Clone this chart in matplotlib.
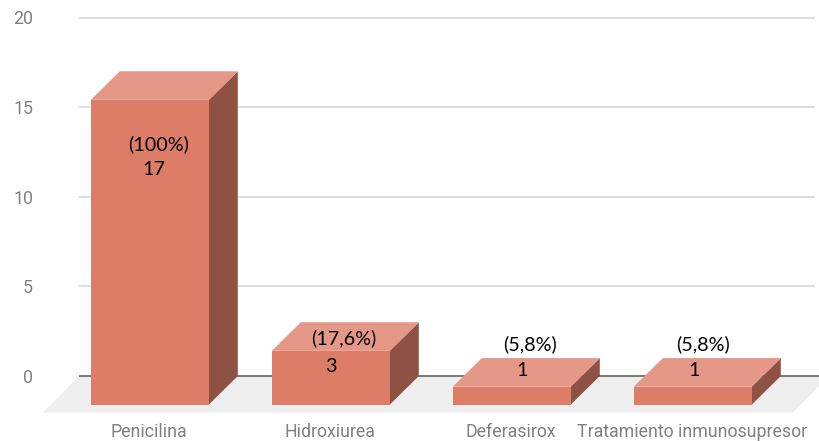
import matplotlib
matplotlib.use("Agg")
import matplotlib.pyplot as plt
from matplotlib.patches import Polygon

categories = ["Penicilina", "Hidroxiurea", "Deferasirox", "Tratamiento inmunosupresor"]
values = [17, 3, 1, 1]
percents = ["(100%)", "(17,6%)", "(5,8%)", "(5,8%)"]
yticks = [0, 5, 10, 15, 20]

W, H = 819, 441
L, R, T, B = 79, 819, 17.5, 376
fig = plt.figure(figsize=(W / 100, H / 100), dpi=100)
ax = fig.add_axes([L / W, 1 - B / H, (R - L) / W, (B - T) / H])
ax.axis("off")
ax.set_ylim(0, 20)
SLOT = 181.0
ax.set_xlim((L - 178.8) / SLOT, (R - 178.8) / SLOT)

px_x = SLOT / 1.0
px_y = (B - T) / 20.0
DX = -29 / px_x          # depth shift of the front plane
DY = -28.6 / px_y
HALF = 59 / px_x

FRONT, TOP, SIDE = "#DD7C67", "#E59888", "#8E5244"
GREY = "#808080"


def poly(pts, color, z):
    ax.add_patch(Polygon(pts, closed=True, facecolor=color, edgecolor="none",
                         zorder=z, clip_on=False))


x0, x1 = ax.get_xlim()
# Floor
fy = -36.5 / px_y
fx = -36 / px_x
poly([(x0, 0), (x1 + 10 / px_x, 0), (x1 + 10 / px_x + fx, fy), (x0 + fx, fy)], "#EEEEEE", 1)

# Grid and baseline
for t in yticks:
    if t == 0:
        ax.plot([x0, x1], [0, 0], color="#555555", lw=1.1, zorder=2, clip_on=False,
                solid_capstyle="butt")
    else:
        ax.plot([x0, x1 - 4 / px_x], [t, t], color="#D9D9D9", lw=1.2, zorder=2, clip_on=False,
                solid_capstyle="butt")
    ax.annotate(str(t), xy=(x0, t), xytext=(-46, -2), textcoords="offset pixels",
                ha="right", va="center", color=GREY, fontsize=12.8, family="Roboto",
                annotation_clip=False)

# Bars
for i, v in enumerate(values):
    a, b = i - HALF + DX, i + HALF + DX
    poly([(b, DY), (i + HALF, 0), (i + HALF, v), (b, v + DY)], SIDE, 3)
    poly([(a, v + DY), (b, v + DY), (i + HALF, v), (i - HALF, v)], TOP, 3)
    poly([(a, DY), (b, DY), (b, v + DY), (a, v + DY)], FRONT, 4)
    ax.annotate(categories[i], xy=(i + DX, 0), xytext=(-1, -56), textcoords="offset pixels",
                ha="center", va="center", color=GREY, fontsize=12.8, family="Roboto",
                annotation_clip=False)

# Data annotations (offsets in pixels from each bar's back-top centre)
pct_off = [(-20, -73), (-16, -16), (-11, 14), (-19, 14)]
val_off = [(-25, -98), (-29, -44), (-19, -12), (-28, -12)]
for i, v in enumerate(values):
    ax.annotate(percents[i], xy=(i, v), xytext=pct_off[i], textcoords="offset pixels",
                ha="center", va="center", color="black", fontsize=14.2, family="Lato",
                zorder=6, annotation_clip=False)
    ax.annotate(str(v), xy=(i, v), xytext=val_off[i], textcoords="offset pixels",
                ha="center", va="center", color="black", fontsize=14.2, family="Lato",
                zorder=6, annotation_clip=False)

fig.savefig("out.png", dpi=100, facecolor="white")
